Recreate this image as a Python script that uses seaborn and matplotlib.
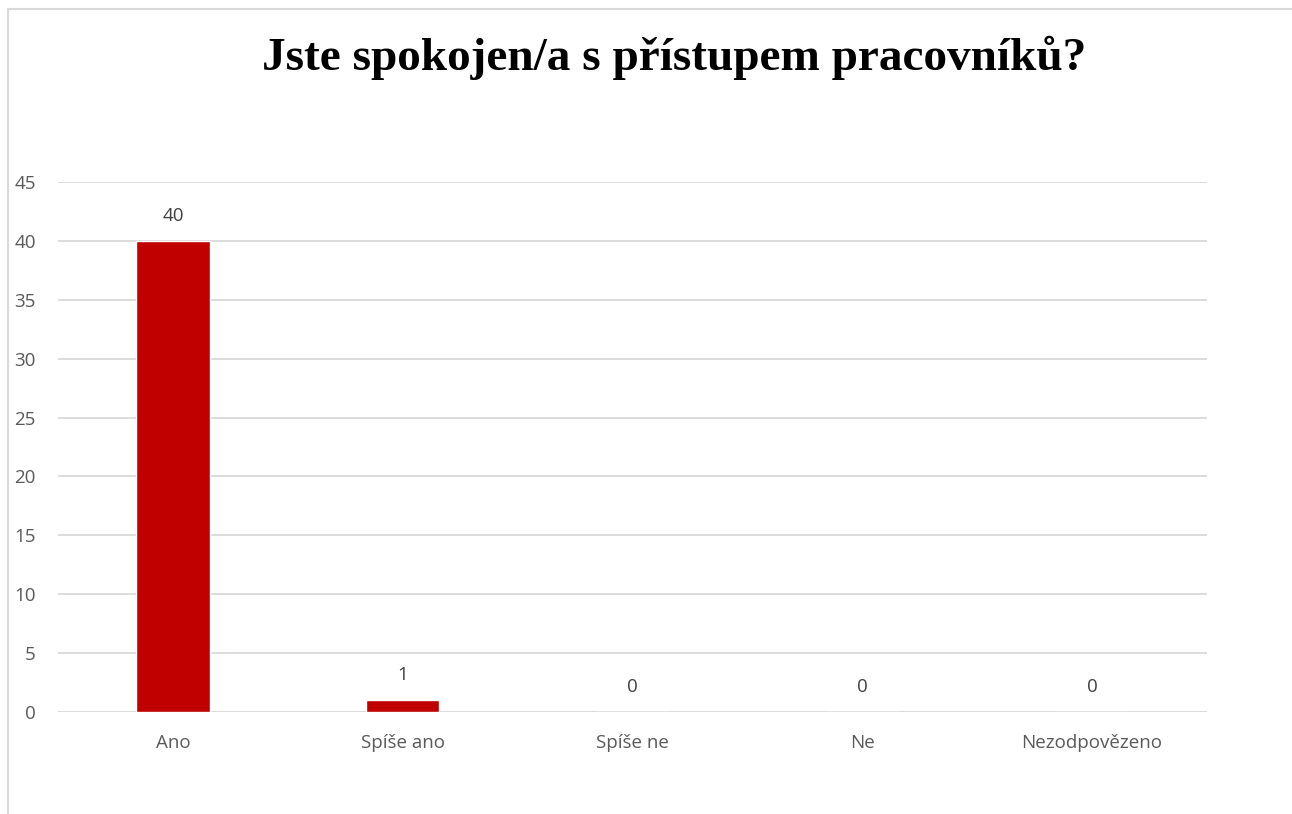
import matplotlib
matplotlib.use("Agg")
import matplotlib.pyplot as plt
import seaborn as sns
import pandas as pd

categories = ["Ano", "Spíše ano", "Spíše ne", "Ne", "Nezodpovězeno"]
values = [40, 1, 0, 0, 0]
yticks = [0, 5, 10, 15, 20, 25, 30, 35, 40, 45]
title = "Jste spokojen/a s přístupem pracovníků?"

sns.set_theme(style="white")
plt.rcParams['font.family'] = ['Open Sans', 'DejaVu Sans']

df = pd.DataFrame({"cat": categories, "val": values})

fig = plt.figure(figsize=(12.92, 8.14), dpi=100)
ax = fig.add_axes([58/1292, 1-712/814, (1207-58)/1292, (712-182)/814])

sns.barplot(data=df, x="cat", y="val", color="#C00000", width=0.32, ax=ax,
            saturation=1, zorder=3)

ax.set_ylim(0, 45)
ax.set_yticks(yticks)
ax.set_xlim(-0.5, len(categories) - 0.5)
ax.yaxis.grid(True, color="#d9d9d9", linewidth=1.3, zorder=0)
ax.set_axisbelow(True)
for s in ax.spines.values():
    s.set_visible(False)
ax.set_xlabel("")
ax.set_ylabel("")
ax.tick_params(axis="both", length=0, labelsize=13.5, labelcolor="#595959")
ax.tick_params(axis="y", pad=16)
ax.tick_params(axis="x", pad=16)

for i, v in enumerate(values):
    ax.annotate(str(v), (i, v), xytext=(0, 18), textcoords="offset points",
                ha="center", va="center", fontsize=13.5, color="#404040")

fig.text(674/1292, 1-58/814, title, ha="center", va="center",
         fontsize=34, fontweight="bold", family="Liberation Serif", color="black")

# chart border
border = plt.Rectangle((8/1292, -0.1), 1.2, 1 - 9/814 + 0.1, transform=fig.transFigure,
                       fill=False, edgecolor="#d9d9d9", linewidth=1.5)
fig.patches.append(border)

fig.savefig("out.png", dpi=100, facecolor="white")
